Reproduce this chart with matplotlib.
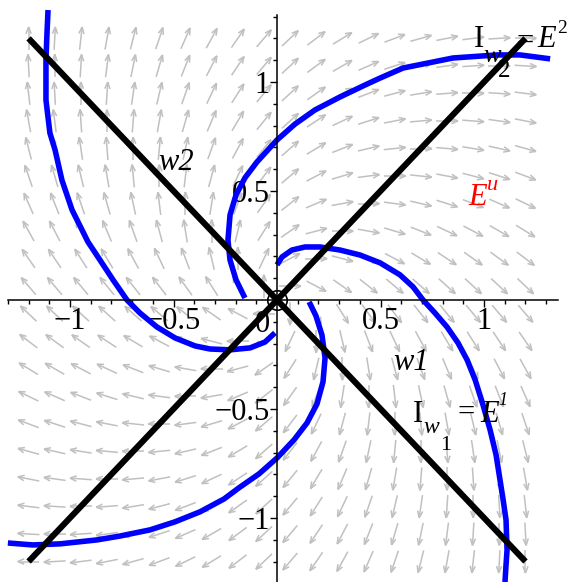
import numpy as np
import matplotlib.pyplot as plt
from matplotlib.collections import LineCollection

# linear system  w1' = (w1 + w2)/2 ,  w2' = (w2 - w1)/2
A = np.array([[0.5, 0.5],
              [-0.5, 0.5]])

# direction field grid
grid_x = np.linspace(-1.2, 1.2, 20)
grid_y = np.linspace(-1.2, 1.2, 20)

# trajectories (w1, w2)
traj_a_x = [-0.155, -0.198, -0.227, -0.237, -0.227, -0.198, -0.155, -0.097, 0.0, 0.087,
            0.184, 0.304, 0.425, 0.498, 0.609, 0.850, 1.063, 1.174, 1.319]
traj_a_y = [0.009, 0.092, 0.183, 0.275, 0.390, 0.482, 0.560, 0.633, 0.734, 0.807,
            0.872, 0.931, 0.986, 1.018, 1.064, 1.110, 1.124, 1.124, 1.106]

traj_b_x = [0.0, 0.024, 0.072, 0.135, 0.208, 0.304, 0.401, 0.498, 0.594, 0.657, 0.705,
            0.763, 0.821, 0.874, 0.918, 0.957, 0.995, 1.029, 1.058, 1.077, 1.092, 1.106,
            1.111, 1.106, 1.101]
traj_b_y = [0.161, 0.197, 0.229, 0.243, 0.243, 0.229, 0.206, 0.170, 0.115, 0.060, 0.0,
            -0.060, -0.124, -0.197, -0.275, -0.367, -0.482, -0.596, -0.711, -0.826, -0.917,
            -1.009, -1.147, -1.216, -1.294]

traj_c_x = [-0.010, -0.058, -0.130, -0.227, -0.324, -0.396, -0.493, -0.580, -0.662, -0.725,
            -0.792, -0.855, -0.913, -0.990, -1.039, -1.072, -1.097, -1.116, -1.116, -1.111,
            -1.106]
traj_c_y = [-0.151, -0.193, -0.220, -0.229, -0.225, -0.211, -0.174, -0.124, -0.060, 0.0,
            0.092, 0.183, 0.266, 0.413, 0.550, 0.688, 0.766, 0.917, 1.101, 1.225, 1.330]

traj_d_x = [0.155, 0.188, 0.217, 0.232, 0.222, 0.193, 0.145, 0.082, 0.0, -0.087, -0.184,
            -0.256, -0.372, -0.493, -0.614, -0.758, -0.870, -1.048, -1.179, -1.300]
traj_d_y = [-0.009, -0.073, -0.161, -0.266, -0.376, -0.477, -0.564, -0.642, -0.725, -0.798,
            -0.862, -0.913, -0.972, -1.018, -1.055, -1.083, -1.101, -1.119, -1.124, -1.115]

# isoclines w1' = 0 (w2 = -w1) and w2' = 0 (w2 = w1)
iso_t = [-1.2, 1.2]

tick_vals = [-1, -0.5, 0.5, 1]
tick_text = ['\u22121', '\u22120.5', '0.5', '1']

plt.rcParams['font.family'] = 'Liberation Serif'

fig = plt.figure(figsize=(5.7, 5.82), dpi=100)
ax = fig.add_axes([0, 0, 1, 1])
ax.set_xlim(-1.338, 1.415)
ax.set_ylim(-1.294, 1.376)

# arrows: unit length, centred on the grid points
X, Y = np.meshgrid(grid_x, grid_y)
U = A[0, 0] * X + A[0, 1] * Y
V = A[1, 0] * X + A[1, 1] * Y
mag = np.hypot(U, V)
U, V = U / mag, V / mag
L = 0.105
segs = []
for x0, y0, u, v in zip(X.ravel(), Y.ravel(), U.ravel(), V.ravel()):
    tail = (x0 - u * L / 2, y0 - v * L / 2)
    tip = (x0 + u * L / 2, y0 + v * L / 2)
    segs.append([tail, tip])
    for ang in (0.38, -0.38):
        c, s = np.cos(ang), np.sin(ang)
        bu, bv = -(c * u - s * v), -(s * u + c * v)
        segs.append([tip, (tip[0] + bu * L * 0.32, tip[1] + bv * L * 0.32)])
ax.add_collection(LineCollection(segs, colors='#c0c0c0', linewidths=1.1, zorder=1))

for tx, ty in [(traj_a_x, traj_a_y), (traj_b_x, traj_b_y),
               (traj_c_x, traj_c_y), (traj_d_x, traj_d_y)]:
    ax.plot(tx, ty, color='#0000ff', lw=4.0, solid_capstyle='butt', zorder=2)

ax.plot(iso_t, iso_t, color='black', lw=4.4, solid_capstyle='butt', zorder=5)
ax.plot(iso_t, [-t for t in iso_t], color='black', lw=4.4, solid_capstyle='butt', zorder=5)
ax.plot([0], [0], 'o', ms=14, mfc='none', mec='black', mew=1.2, zorder=5)

# axes through the origin
for side in ['top', 'right']:
    ax.spines[side].set_visible(False)
ax.spines['left'].set_position(('data', 0))
ax.spines['bottom'].set_position(('data', 0))
ax.spines['bottom'].set_bounds(-1.30, 1.357)
ax.spines['left'].set_bounds(-1.294, 1.307)
for sp in ['left', 'bottom']:
    ax.spines[sp].set_linewidth(1.1)
    ax.spines[sp].set_zorder(3)
ax.set_xticks(tick_vals)
ax.set_xticklabels(tick_text)
ax.set_yticks(tick_vals)
ax.set_yticklabels(tick_text)
ax.set_xticks(np.arange(-1.3, 1.36, 0.1), minor=True)
ax.set_yticks(np.arange(-1.2, 1.31, 0.1), minor=True)
ax.tick_params(which='major', length=5, width=1, direction='out', labelsize=22, pad=0)
ax.tick_params(which='minor', length=3, width=1, direction='out')
ax.text(-0.034, -0.147, '0', fontsize=22, ha='right', va='baseline')

# labels
ax.text(-0.575, 0.596, 'w2', fontsize=22, style='italic', zorder=4)
ax.text(0.560, -0.321, 'w1', fontsize=22, style='italic', zorder=4)
ax.text(0.923, 0.436, 'E', fontsize=22, style='italic', color='red', zorder=4)
ax.text(1.014, 0.505, 'u', fontsize=16, style='italic', color='red', zorder=4)

ax.text(0.952, 1.161, 'I', fontsize=22, zorder=4)
ax.text(0.995, 1.092, 'w', fontsize=19, style='italic', zorder=4)
ax.text(1.068, 1.023, '2', fontsize=18, zorder=4)
ax.text(1.155, 1.147, '=', fontsize=22, zorder=4)
ax.text(1.256, 1.161, 'E', fontsize=22, style='italic', zorder=4)
ax.text(1.353, 1.225, '2', fontsize=14, zorder=4)

ax.text(0.657, -0.560, 'I', fontsize=22, zorder=4)
ax.text(0.705, -0.610, 'w', fontsize=17, style='italic', zorder=4)
ax.text(0.787, -0.688, '1', fontsize=16, zorder=4)
ax.text(0.870, -0.555, '=', fontsize=22, zorder=4)
ax.text(0.981, -0.560, 'E', fontsize=22, style='italic', zorder=4)
ax.text(1.068, -0.482, '1', fontsize=13, style='italic', zorder=4)

fig.savefig('out.png', dpi=100)
